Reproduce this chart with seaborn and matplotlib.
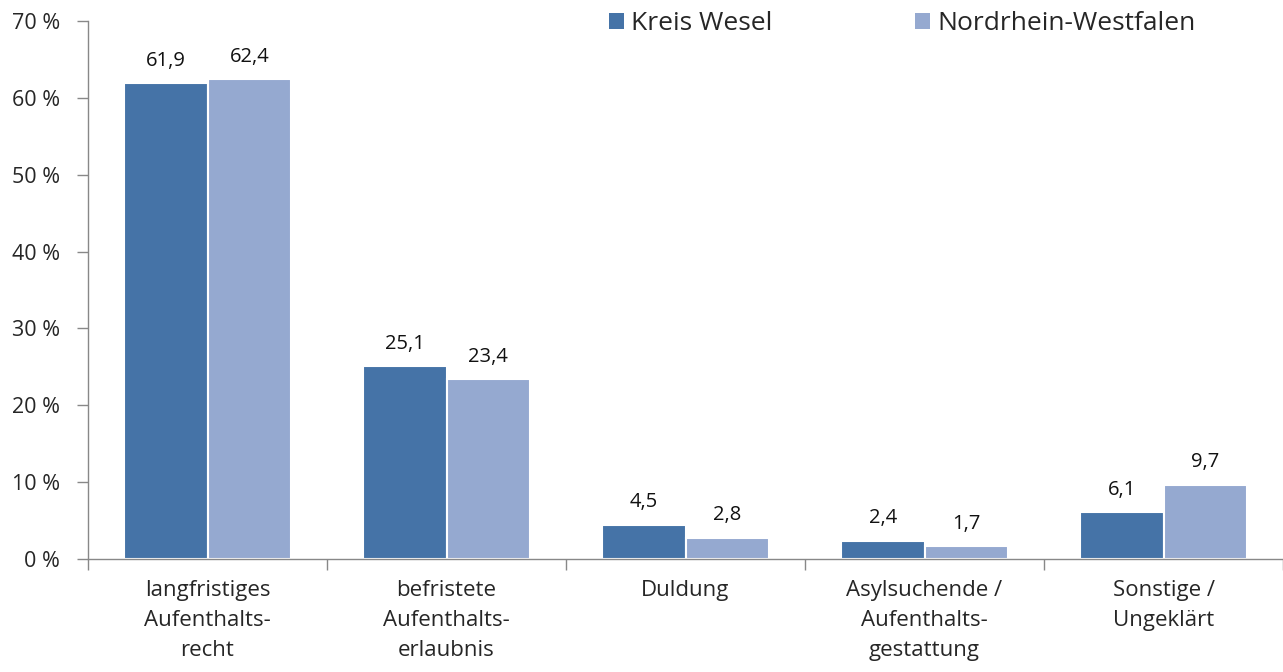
import matplotlib
matplotlib.use("Agg")
import matplotlib.pyplot as plt
import seaborn as sns
import pandas as pd
from matplotlib.ticker import FixedLocator

categories = ["langfristiges\nAufenthalts-\nrecht", "befristete\nAufenthalts-\nerlaubnis", "Duldung",
              "Asylsuchende /\nAufenthalts-\ngestattung", "Sonstige /\nUngeklärt"]
series_names = ["Kreis Wesel", "Nordrhein-Westfalen"]
kreis_wesel = [61.9, 25.1, 4.5, 2.4, 6.1]
nrw = [62.4, 23.4, 2.8, 1.7, 9.7]
y_ticks = [0, 10, 20, 30, 40, 50, 60, 70]

df = pd.DataFrame({
    "Kategorie": categories * 2,
    "Serie": [series_names[0]] * 5 + [series_names[1]] * 5,
    "Wert": kreis_wesel + nrw,
})

sns.set_theme(style="white")
plt.rcParams["font.family"] = ["Open Sans", "DejaVu Sans"]

fig = plt.figure(figsize=(12.83, 6.72), dpi=100)
ax = fig.add_axes([0.0686, 0.168, 0.9314, 0.801])

palette = {"Kreis Wesel": "#4573A7", "Nordrhein-Westfalen": "#95A9D0"}
sns.barplot(data=df, x="Kategorie", y="Wert", hue="Serie", palette=palette,
            width=0.7, ax=ax, edgecolor="white", linewidth=1.5, saturation=1)

for cont in ax.containers:
    ax.bar_label(cont, labels=[f"{v:.1f}".replace(".", ",") for v in cont.datavalues],
                 padding=9, fontsize=14.5, color="#111111")

ax.set_ylim(0, 70)
ax.set_xlim(-0.5, 4.5)
ax.set_yticks(y_ticks)
ax.set_yticklabels([f"{t} %" for t in y_ticks], fontsize=15.5)
ax.set_xticklabels(categories, fontsize=16, linespacing=1.55)
ax.set_xlabel("")
ax.set_ylabel("")
ax.xaxis.set_minor_locator(FixedLocator([-0.5, 0.5, 1.5, 2.5, 3.5, 4.5]))
ax.tick_params(axis="x", which="major", length=0, pad=15)
ax.tick_params(axis="x", which="minor", length=8, color="#888888", width=1, bottom=True)
ax.tick_params(axis="y", length=8, color="#888888", width=1, left=True, pad=12)
for s in ["top", "right"]:
    ax.spines[s].set_visible(False)
for s in ["left", "bottom"]:
    ax.spines[s].set_color("#888888")
    ax.spines[s].set_linewidth(1)

leg = ax.legend(loc="center left", bbox_to_anchor=(0.436, 0.995), ncol=2, frameon=False,
                fontsize=19, handlelength=0.55, handleheight=0.55, columnspacing=5.4,
                handletextpad=0.3, borderaxespad=0, borderpad=0)
for h in leg.legend_handles:
    h.set_edgecolor("none")

fig.savefig("out.png", dpi=100)
